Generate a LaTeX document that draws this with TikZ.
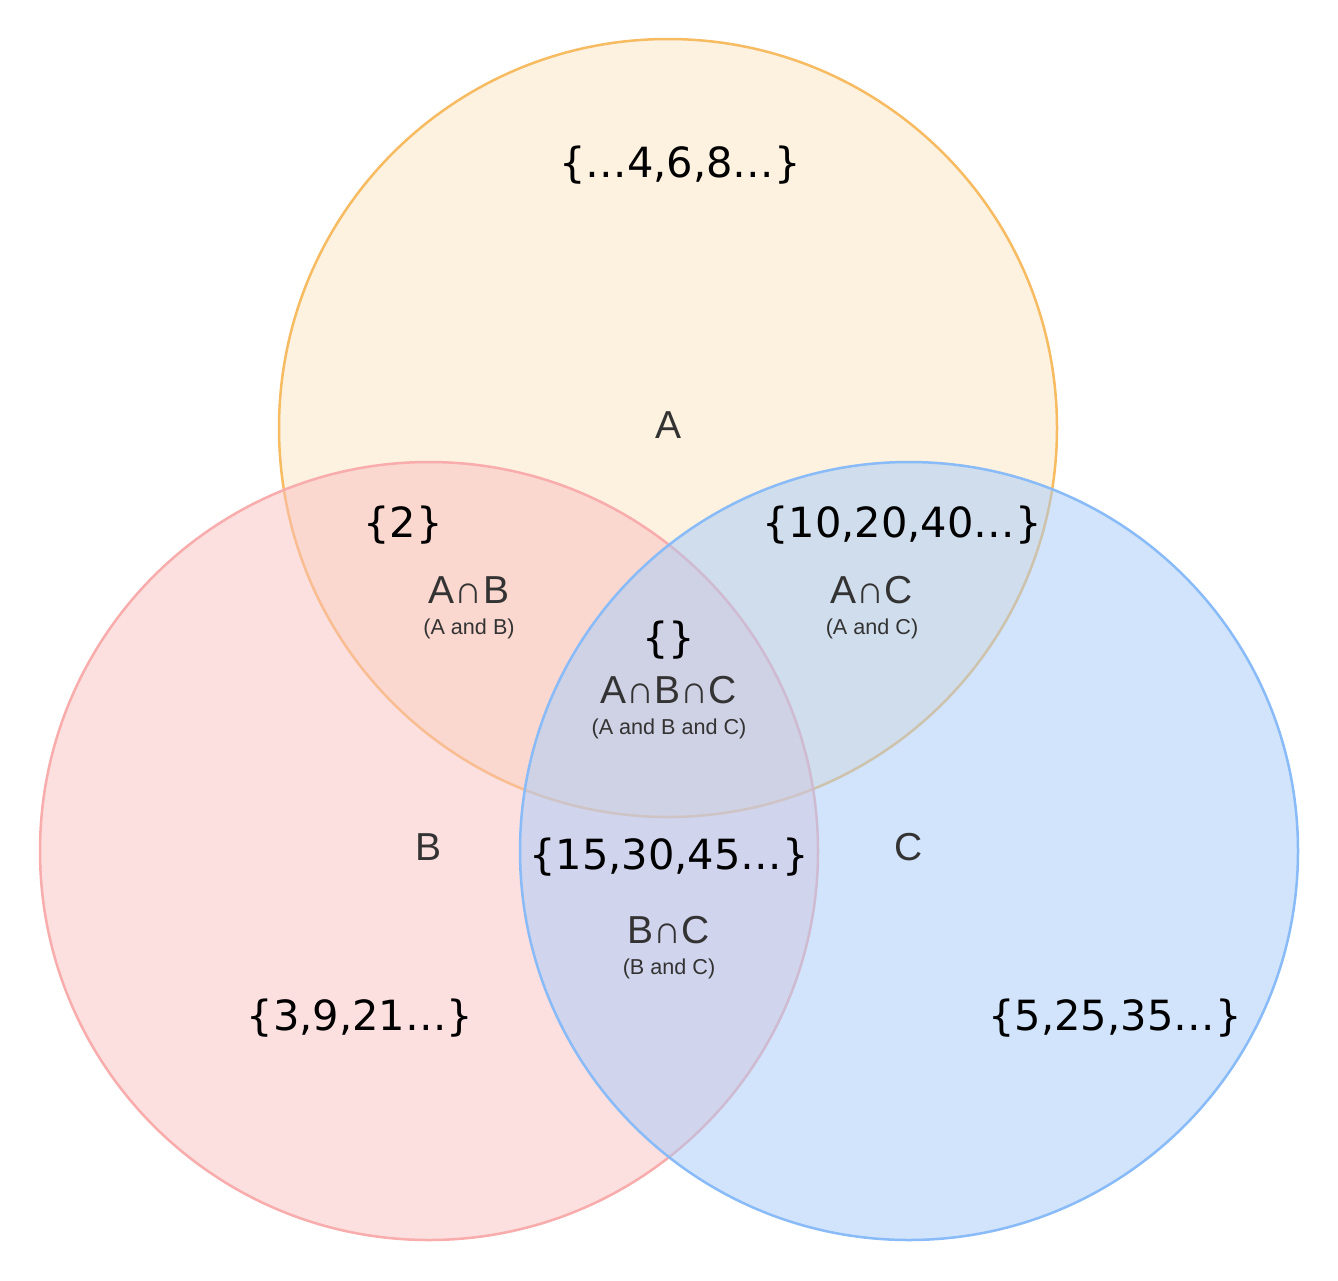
\documentclass[tikz,border=0pt]{standalone}
\usepackage{fontspec}
\usepackage{xcolor}
\newfontfamily\setsfont{DejaVu Sans}
\newfontfamily\capfont{Liberation Sans}
\definecolor{afill}{RGB}{252,228,192}
\definecolor{aline}{RGB}{247,187,98}
\definecolor{bfill}{RGB}{250,192,192}
\definecolor{bline}{RGB}{249,172,172}
\definecolor{cfill}{RGB}{165,203,249}
\definecolor{cline}{RGB}{136,187,247}
\definecolor{labgray}{RGB}{51,51,51}

\begin{document}
\begin{tikzpicture}[
  x=0.5pt, y=-0.5pt,
  setcircle/.style={line width=1.25pt, fill opacity=0.5},
  members/.style={inner sep=0, font=\setsfont\fontsize{20.8}{25}\selectfont, text=black},
  region/.style={inner sep=0, font=\capfont\fontsize{19.5}{23}\selectfont, text=labgray},
  sub/.style={inner sep=0, font=\capfont\fontsize{10.8}{13}\selectfont, text=labgray}
]
\fill[white] (0,0) rectangle (1338,1280);
\useasboundingbox (0,0) rectangle (1338,1280);

\draw[setcircle, draw=aline, fill=afill] (668,428) circle (194.5pt);
\draw[setcircle, draw=bline, fill=bfill] (429,851) circle (194.5pt);
\draw[setcircle, draw=cline, fill=cfill] (909,851) circle (194.5pt);

\node[members] (evens) at (680,165) {\{…4,6,8…\}};
\node[region] (labA) at (668,425) {A};

\node[members] (ab) at (403,525) {\{2\}};
\node[region] (labAB) at (469,590) {A∩B};
\node[sub] (subAB) at (469,629) {(A and B)};

\node[members] (ac) at (902,525) {\{10,20,40…\}};
\node[region] (labAC) at (872,590) {A∩C};
\node[sub] (subAC) at (872,629) {(A and C)};

\node[members] (abc) at (669,640) {\{\}};
\node[region] (labABC) at (669,690) {A∩B∩C};
\node[sub] (subABC) at (669,729) {(A and B and C)};

\node[region] (labB) at (429,847) {B};
\node[region] (labC) at (909,847) {C};

\node[members] (bc) at (669,857) {\{15,30,45…\}};
\node[region] (labBC) at (669,930) {B∩C};
\node[sub] (subBC) at (669,969) {(B and C)};

\node[members] (odds) at (360,1018) {\{3,9,21…\}};
\node[members] (fives) at (1115,1018) {\{5,25,35…\}};
\end{tikzpicture}
\end{document}
